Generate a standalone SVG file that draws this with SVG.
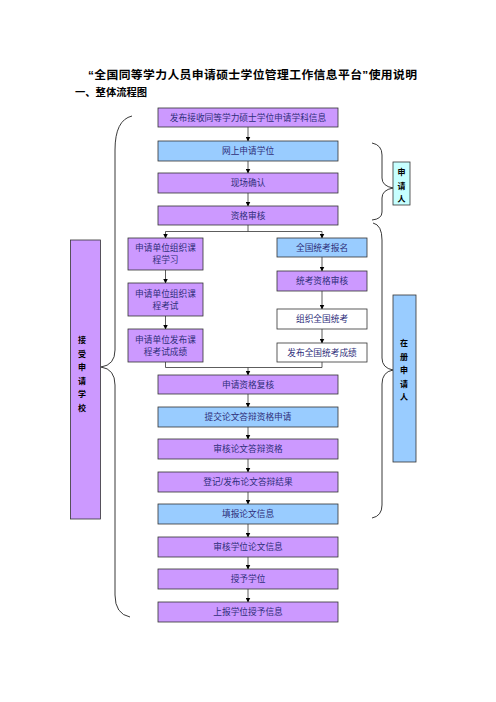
<svg xmlns="http://www.w3.org/2000/svg" width="496" height="702" viewBox="0 0 496 702">
<style>
.t{font-family:"Liberation Sans","Noto Sans CJK SC",sans-serif;}
.h{font-weight:bold;fill:#000;}
.bx{stroke:#333;stroke-width:0.8;}
.p{fill:#CC99FF;}
.b{fill:#99CCFF;}
.w{fill:#FFFFFF;}
.c{fill:#C6FFFF;}
.lbl{font-family:"Liberation Sans","Noto Sans CJK SC",sans-serif;font-size:8.7px;fill:#2E2E7A;text-anchor:middle;}
.v{font-family:"Liberation Sans","Noto Sans CJK SC",sans-serif;font-size:8px;font-weight:bold;fill:#000;text-anchor:middle;}
.ln{stroke:#333;stroke-width:0.8;fill:none;}
.br{stroke:#222;stroke-width:0.9;fill:none;}
</style>
<defs>
<marker id="ah" markerWidth="5" markerHeight="5" refX="4.5" refY="2.5" orient="auto" markerUnits="userSpaceOnUse">
<path d="M0,0 L5,2.5 L0,5 Z" fill="#000"/>
</marker>
</defs>
<rect width="496" height="702" fill="#fff"/>
<text class="t h" x="88" y="79" font-size="11.8" textLength="329">“全国同等学力人员申请硕士学位管理工作信息平台”使用说明</text>
<text class="t h" x="75" y="96" font-size="10.3">一、整体流程图</text>

<g id="connectors">
<line class="ln" x1="248" y1="127" x2="248" y2="141" marker-end="url(#ah)"/>
<line class="ln" x1="248" y1="161" x2="248" y2="173" marker-end="url(#ah)"/>
<line class="ln" x1="248" y1="193" x2="248" y2="206" marker-end="url(#ah)"/>
<polyline class="ln" points="248,225 248,231.5"/>
<polyline class="ln" points="165.5,231.5 322,231.5"/>
<line class="ln" x1="165.5" y1="231.5" x2="165.5" y2="238" marker-end="url(#ah)"/>
<line class="ln" x1="322" y1="231.5" x2="322" y2="238" marker-end="url(#ah)"/>
<line class="ln" x1="165.5" y1="270" x2="165.5" y2="283" marker-end="url(#ah)"/>
<line class="ln" x1="165.5" y1="316" x2="165.5" y2="329" marker-end="url(#ah)"/>
<line class="ln" x1="322" y1="257" x2="322" y2="271" marker-end="url(#ah)"/>
<line class="ln" x1="322" y1="291" x2="322" y2="309" marker-end="url(#ah)"/>
<line class="ln" x1="322" y1="329" x2="322" y2="343" marker-end="url(#ah)"/>
<polyline class="ln" points="165.5,362 165.5,367.5 322,367.5 322,362"/>
<line class="ln" x1="248" y1="367.5" x2="248" y2="375" marker-end="url(#ah)"/>
<line class="ln" x1="248" y1="394" x2="248" y2="407" marker-end="url(#ah)"/>
<line class="ln" x1="248" y1="427" x2="248" y2="439" marker-end="url(#ah)"/>
<line class="ln" x1="248" y1="459" x2="248" y2="472" marker-end="url(#ah)"/>
<line class="ln" x1="248" y1="492" x2="248" y2="504" marker-end="url(#ah)"/>
<line class="ln" x1="248" y1="524" x2="248" y2="537" marker-end="url(#ah)"/>
<line class="ln" x1="248" y1="557" x2="248" y2="569" marker-end="url(#ah)"/>
<line class="ln" x1="248" y1="589" x2="248" y2="602" marker-end="url(#ah)"/>
<path class="br" d="M132,116 Q115,120 115,150 L115,350 Q115,365 101,367 Q115,369 115,385 L115,595 Q115,614 130,617"/>
<path class="br" d="M372,143 Q382,145 382,155 L382,178 Q382,186 393,188 Q382,190 382,198 L382,212 Q382,219 372,220"/>
<path class="br" d="M373,223 Q382,225 382,240 L382,358 Q382,368 393,370 Q382,372 382,384 L382,505 Q382,516 372,518"/>
</g>

<g id="n1"><rect class="bx p" x="158" y="108" width="180" height="19"/><text class="lbl" x="248" y="120.8">发布接收同等学力硕士学位申请学科信息</text></g>
<g id="n2"><rect class="bx b" x="158" y="141" width="180" height="20"/><text class="lbl" x="248" y="154.2">网上申请学位</text></g>
<g id="n3"><rect class="bx p" x="158" y="173" width="180" height="20"/><text class="lbl" x="248" y="186.2">现场确认</text></g>
<g id="n4"><rect class="bx p" x="158" y="206" width="180" height="19"/><text class="lbl" x="248" y="218.7">资格审核</text></g>

<g id="l1"><rect class="bx p" x="128" y="238" width="75" height="32"/><text class="lbl" x="165.5" y="251">申请单位组织课</text><text class="lbl" x="165.5" y="263">程学习</text></g>
<g id="l2"><rect class="bx p" x="128" y="283" width="75" height="33"/><text class="lbl" x="165.5" y="296.5">申请单位组织课</text><text class="lbl" x="165.5" y="308.5">程考试</text></g>
<g id="l3"><rect class="bx p" x="128" y="329" width="75" height="33"/><text class="lbl" x="165.5" y="342.5">申请单位发布课</text><text class="lbl" x="165.5" y="354.5">程考试成绩</text></g>

<g id="r1"><rect class="bx b" x="277" y="238" width="90" height="19"/><text class="lbl" x="322" y="250.7">全国统考报名</text></g>
<g id="r2"><rect class="bx p" x="277" y="271" width="90" height="20"/><text class="lbl" x="322" y="284.2">统考资格审核</text></g>
<g id="r3"><rect class="bx w" x="277" y="309" width="90" height="20"/><text class="lbl" x="322" y="322.2">组织全国统考</text></g>
<g id="r4"><rect class="bx w" x="277" y="343" width="90" height="19"/><text class="lbl" x="322" y="355.7">发布全国统考成绩</text></g>

<g id="n5"><rect class="bx p" x="158" y="375" width="180" height="19"/><text class="lbl" x="248" y="387.7">申请资格复核</text></g>
<g id="n6"><rect class="bx b" x="158" y="407" width="180" height="20"/><text class="lbl" x="248" y="420.2">提交论文答辩资格申请</text></g>
<g id="n7"><rect class="bx p" x="158" y="439" width="180" height="20"/><text class="lbl" x="248" y="452.2">审核论文答辩资格</text></g>
<g id="n8"><rect class="bx p" x="158" y="472" width="180" height="20"/><text class="lbl" x="248" y="485.2">登记/发布论文答辩结果</text></g>
<g id="n9"><rect class="bx b" x="158" y="504" width="180" height="20"/><text class="lbl" x="248" y="517.2">填报论文信息</text></g>
<g id="n10"><rect class="bx p" x="158" y="537" width="180" height="20"/><text class="lbl" x="248" y="550.2">审核学位论文信息</text></g>
<g id="n11"><rect class="bx p" x="158" y="569" width="180" height="20"/><text class="lbl" x="248" y="582.2">授予学位</text></g>
<g id="n12"><rect class="bx p" x="158" y="602" width="180" height="20"/><text class="lbl" x="248" y="615.2">上报学位授予信息</text></g>

<g id="school"><rect class="bx p" x="70.5" y="240" width="30" height="279" stroke-width="1"/>
<text class="v" x="82" y="343">接</text><text class="v" x="82" y="357">受</text><text class="v" x="82" y="370">申</text><text class="v" x="82" y="383.5">请</text><text class="v" x="82" y="397">学</text><text class="v" x="82" y="410.5">校</text></g>
<g id="applicant"><rect class="bx c" x="393" y="162" width="17" height="43" stroke-width="1"/>
<text class="v" x="401.5" y="174.5">申</text><text class="v" x="401.5" y="189">请</text><text class="v" x="401.5" y="202">人</text></g>
<g id="registered"><rect class="bx b" x="393" y="295" width="23" height="167" stroke-width="1"/>
<text class="v" x="404" y="346">在</text><text class="v" x="404" y="360">册</text><text class="v" x="404" y="373">申</text><text class="v" x="404" y="386.5">请</text><text class="v" x="404" y="400">人</text></g>
</svg>
